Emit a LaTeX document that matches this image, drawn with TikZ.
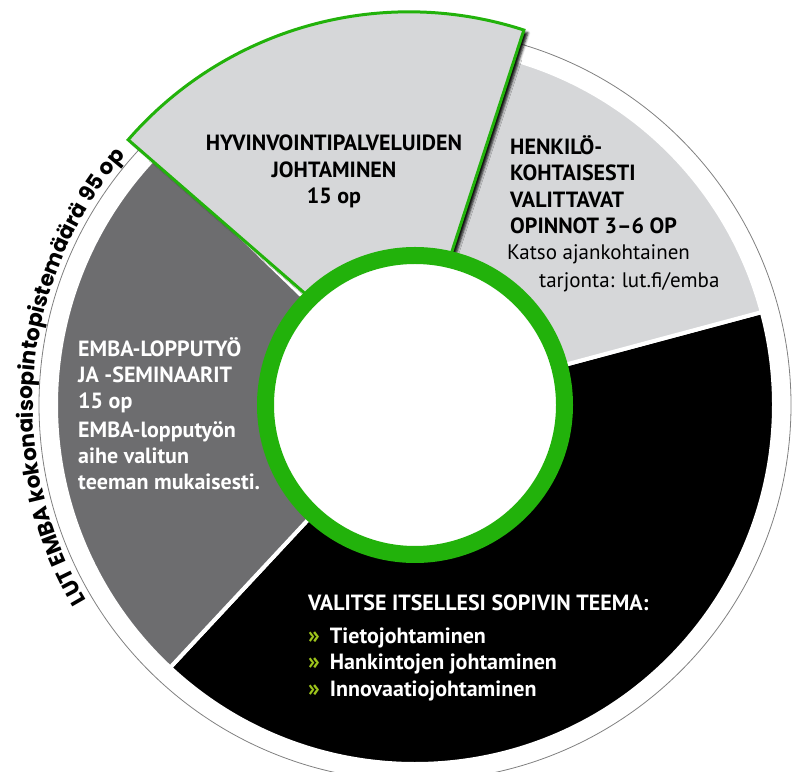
\documentclass[tikz,border=0pt]{standalone}
\usepackage{fontspec}
\setmainfont{PT Sans}
\newfontfamily\arcfont{Poppins}
\usetikzlibrary{calc}
\usetikzlibrary{decorations.text}
\usetikzlibrary{shadows.blur}
\definecolor{green}{HTML}{22B20B}
\definecolor{lime}{HTML}{9DC41B}
\definecolor{lightgray}{HTML}{D6D7D9}
\definecolor{darkgray}{HTML}{6D6D6F}
\definecolor{rimgray}{HTML}{808080}
\newcommand{\teemabullet}{{\color{lime}\fontsize{24}{24}\selectfont»}\hspace{10pt}}

\begin{document}
\begin{tikzpicture}[x=1pt,y=1pt,
    sector/.style={draw=white, line width=4pt},
    label/.style={inner sep=0pt, align=left, font=\bfseries\fontsize{22}{26.5}\selectfont}]
  \useasboundingbox (0,0) rectangle (795,771);
  \coordinate (c) at (415,366);
  \draw[rimgray, line width=0.8pt] (c) circle (376);
  % sectors
  \filldraw[sector, fill=black] (c) -- ++(-133:359) arc[start angle=-133, end angle=15, radius=359] -- cycle;
  \filldraw[sector, fill=lightgray] (c) -- ++(15:359) arc[start angle=15, end angle=76, radius=359] -- cycle;
  \filldraw[sector, fill=darkgray] (c) -- ++(136:359) arc[start angle=136, end angle=227, radius=359] -- cycle;
  % lifted sector
  \coordinate (a) at ($(c)+(106:22)$);
  \filldraw[fill=lightgray, draw=green, line width=3pt,
    blur shadow={shadow xshift=4pt, shadow yshift=-3pt, shadow blur radius=2.5pt, shadow opacity=95}]
    (a) -- ++(72:372) arc[start angle=72, end angle=139, radius=372] -- cycle;
  % ring
  \draw[green, line width=17pt, fill=white] (c) circle (149.5);
  % text on the rim
  \path[decorate, decoration={text along path, text align=center,
    text={|\arcfont\bfseries\fontsize{21.5}{21.5}\selectfont|LUT EMBA kokonaisopintopistemäärä 95 op}}]
    (c) ++(223:382) arc[start angle=223, end angle=127, radius=382];
  % labels
  \node[label, anchor=north, align=center] (hyv) at (334,636) {HYVINVOINTIPALVELUIDEN\\JOHTAMINEN\\15 op};
  \node[label, anchor=north west] (henk) at (510,636) {HENKILÖ-\\KOHTAISESTI\\VALITTAVAT\\OPINNOT 3–6 OP};
  \node[label, anchor=north west, font=\fontsize{21}{28}\selectfont] (katso) at (507,527)
    {Katso ajankohtainen\\\hspace*{32pt}tarjonta: lut.fi/emba};
  \node[label, anchor=north west, text=white, font=\bfseries\fontsize{22}{26}\selectfont] (emba) at (78,434)
    {EMBA-LOPPUTYÖ\\JA -SEMINAARIT\\15 op\\[3pt]EMBA-lopputyön\\aihe valitun\\teeman mukaisesti.};
  \node[label, anchor=north west, text=white] (teema) at (308,176)
    {VALITSE ITSELLESI SOPIVIN TEEMA:\\[6pt]\teemabullet Tietojohtaminen\\\teemabullet Hankintojen johtaminen\\\teemabullet Innovaatiojohtaminen};
\end{tikzpicture}
\end{document}
